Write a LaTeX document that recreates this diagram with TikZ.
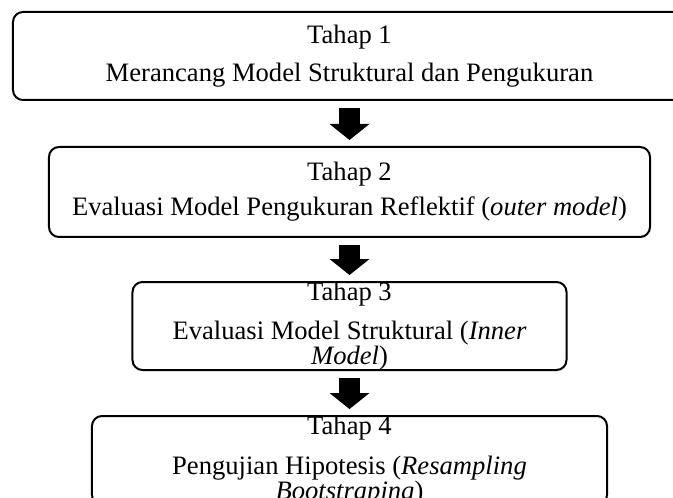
\documentclass[tikz,border=0pt]{standalone}
\usepackage{fontspec}
\setmainfont{Liberation Serif}
\usetikzlibrary{arrows.meta, positioning}

\begin{document}
\begin{tikzpicture}[
    node distance=22pt,
    stagebox/.style={rectangle, draw, line width=1pt, rounded corners=5pt, minimum height=44pt, inner sep=0pt},
    stagetext/.style={align=center, inner sep=0pt, font=\fontsize{13.3}{12.5}\selectfont},
    flow/.style={line width=10.5pt, -{Triangle[length=8pt, width=20pt, line width=0pt]}, shorten <=3.5pt, shorten >=3pt}
]
    \useasboundingbox (-174.75pt,28pt) rectangle (161.75pt,-220.5pt);

    % Stages
    \node[stagebox, minimum width=336.5pt] (stage1) {};
    \node[stagebox, minimum width=300.5pt, minimum height=45pt, below=22.5pt of stage1] (stage2) {};
    \node[stagebox, minimum width=217pt, below=21.5pt of stage2] (stage3) {};
    \node[stagebox, minimum width=257.5pt, minimum height=44.5pt, below=22pt of stage3] (stage4) {};

    % Texts
    \node[stagetext] (txt1) at (stage1.center) {Tahap 1\\[6.5pt]Merancang Model Struktural dan Pengukuran};
    \node[stagetext] (txt2) at (stage2.center) {Tahap 2\\[5pt]Evaluasi Model Pengukuran Reflektif (\textit{outer model})};
    \node[stagetext] (txt3) at (stage3.center) {Tahap 3\\[7pt]Evaluasi Model Struktural (\textit{Inner}\\\textit{Model})};
    \node[stagetext] (txt4) at (stage4.center) {Tahap 4\\[7.5pt]Pengujian Hipotesis (\textit{Resampling}\\\textit{Bootstraping})};

    % Arrows
    \draw[flow] (stage1) -- (stage2);
    \draw[flow] (stage2) -- (stage3);
    \draw[flow] (stage3) -- (stage4);
\end{tikzpicture}
\end{document}
